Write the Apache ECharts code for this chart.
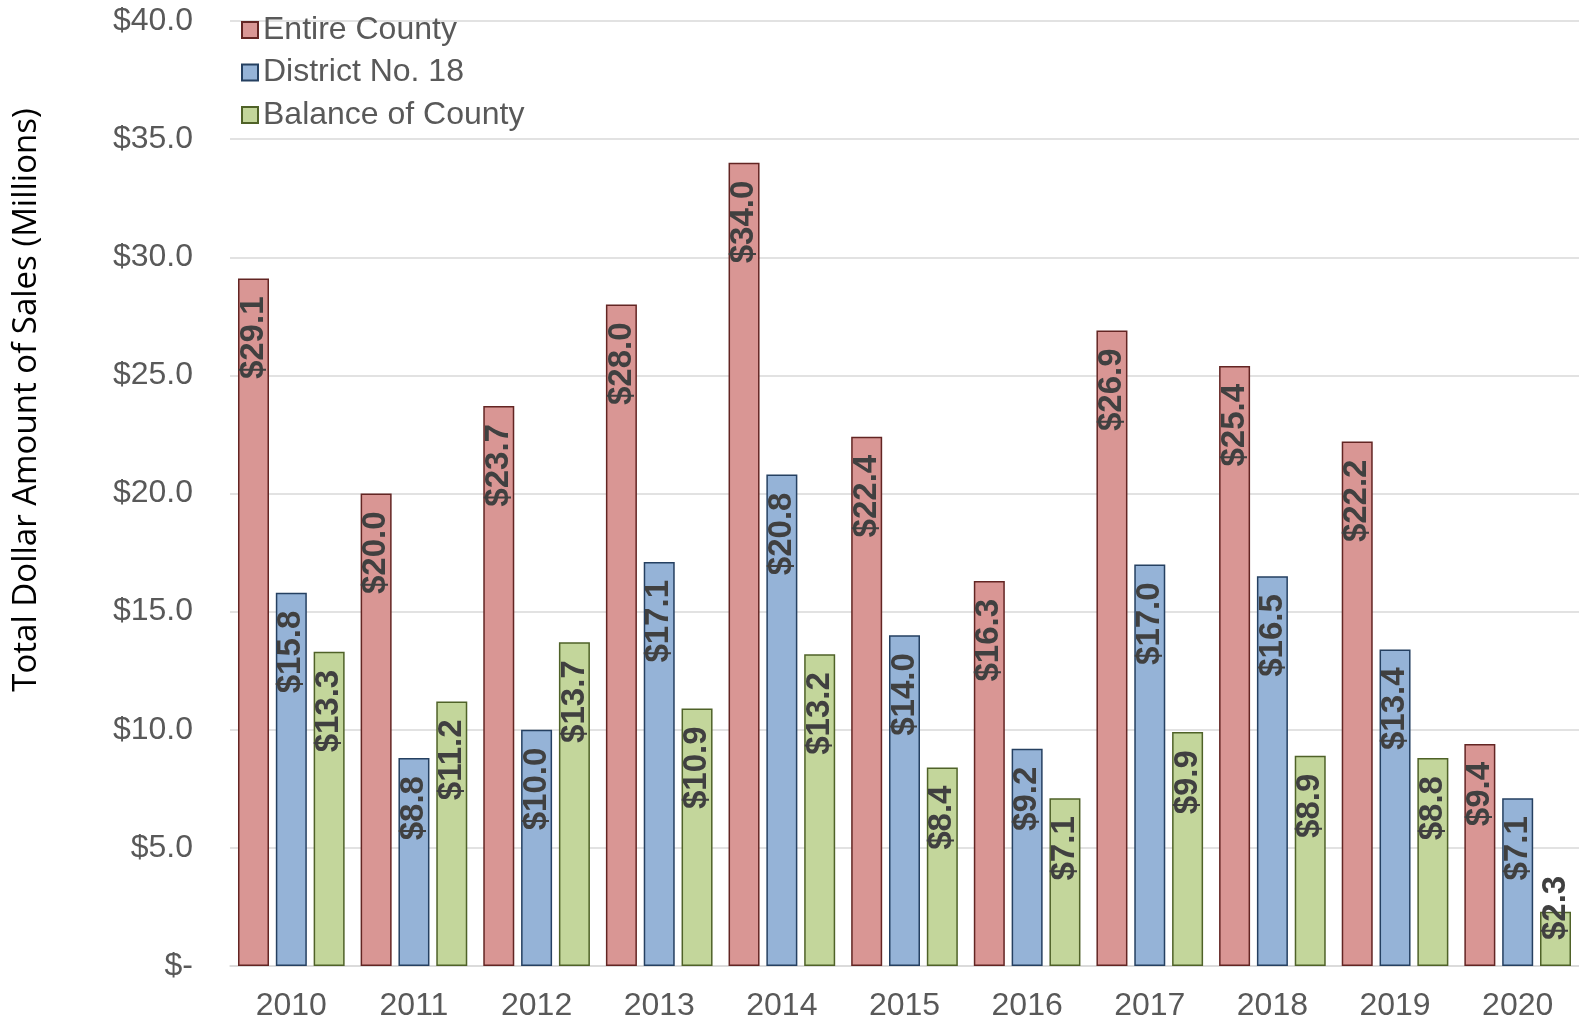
<!DOCTYPE html>
<html>
<head>
<meta charset="utf-8">
<script src="https://cdn.jsdelivr.net/npm/echarts@6/dist/echarts.min.js"></script>
<style>
html,body{margin:0;padding:0;background:#fff;}
#chart{width:1579px;height:1021px;}
</style>
</head>
<body>
<div id="chart"></div>
<script>
const years = ['2010','2011','2012','2013','2014','2015','2016','2017','2018','2019','2020'];
const entireCounty = [29.1, 20.0, 23.7, 28.0, 34.0, 22.4, 16.3, 26.9, 25.4, 22.2, 9.4];
const districtNo18 = [15.8, 8.8, 10.0, 17.1, 20.8, 14.0, 9.2, 17.0, 16.5, 13.4, 7.1];
const balanceOfCounty = [13.3, 11.2, 13.7, 10.9, 13.2, 8.4, 7.1, 9.9, 8.9, 8.8, 2.3];
const yTickLabels = ['$-', '$5.0', '$10.0', '$15.0', '$20.0', '$25.0', '$30.0', '$35.0', '$40.0'];
const yAxisTitle = 'Total Dollar Amount of Sales (Millions)';

const labelFont = '"Liberation Sans Narrow", "Arial Narrow", "Liberation Sans", Arial, sans-serif';
const baseFont = '"Liberation Sans", Arial, sans-serif';

function makeData(values) {
  return values.map(v => {
    if (v < 4) {
      return { value: v, label: { position: 'insideBottom', align: 'left', distance: 26 } };
    }
    return v;
  });
}

function makeSeries(name, values, fill, border) {
  return {
    name: name,
    type: 'bar',
    data: makeData(values),
    barWidth: 31,
    barGap: '22%',
    itemStyle: { color: fill, borderColor: border, borderWidth: 1.5 },
    label: {
      show: true,
      position: 'insideTop',
      rotate: 90,
      align: 'right',
      verticalAlign: 'middle',
      distance: 18,
      color: '#404040',
      fontFamily: labelFont,
      fontWeight: 'bold',
      fontSize: 33,
      formatter: p => '$' + p.value.toFixed(1)
    },
    emphasis: { disabled: true }
  };
}

const chart = echarts.init(document.getElementById('chart'), null, { renderer: 'canvas' });
chart.setOption({
  animation: false,
  backgroundColor: '#ffffff',
  grid: { left: 230, right: 0, top: 21, bottom: 55, containLabel: false, outerBoundsMode: 'none' },
  graphic: [{
    type: 'text',
    x: 27,
    y: 400,
    rotation: Math.PI / 2,
    style: {
      text: yAxisTitle,
      fill: '#000000',
      font: '33px "Open Sans", "Noto Sans", sans-serif',
      align: 'center',
      verticalAlign: 'middle'
    }
  }],
  legend: {
    orient: 'vertical',
    left: 241,
    top: 14,
    icon: 'rect',
    itemWidth: 16,
    itemHeight: 16,
    itemGap: 10.5,
    textStyle: { fontFamily: baseFont, fontSize: 32, color: '#595959', lineHeight: 32, padding: [0, 0, 0, 0] },
    padding: 0,
    data: ['Entire County', 'District No. 18', 'Balance of County']
  },
  xAxis: {
    type: 'category',
    data: years,
    axisLine: { show: true, lineStyle: { color: '#D9D9D9', width: 1.5 } },
    axisTick: { show: false },
    axisLabel: { fontFamily: baseFont, fontSize: 32, color: '#595959', margin: 24 }
  },
  yAxis: {
    type: 'value',
    min: 0,
    max: 40,
    interval: 5,
    axisLine: { show: false },
    axisTick: { show: false },
    splitLine: { show: true, lineStyle: { color: '#D9D9D9', width: 1.5 } },
    axisLabel: {
      fontFamily: baseFont, fontSize: 32, color: '#595959', margin: 37,
      formatter: v => yTickLabels[Math.round(v / 5)]
    }
  },
  series: [
    makeSeries('Entire County', entireCounty, '#D99694', '#632523'),
    makeSeries('District No. 18', districtNo18, '#95B3D7', '#254061'),
    makeSeries('Balance of County', balanceOfCounty, '#C3D69B', '#4F6228')
  ]
});
</script>
</body>
</html>
